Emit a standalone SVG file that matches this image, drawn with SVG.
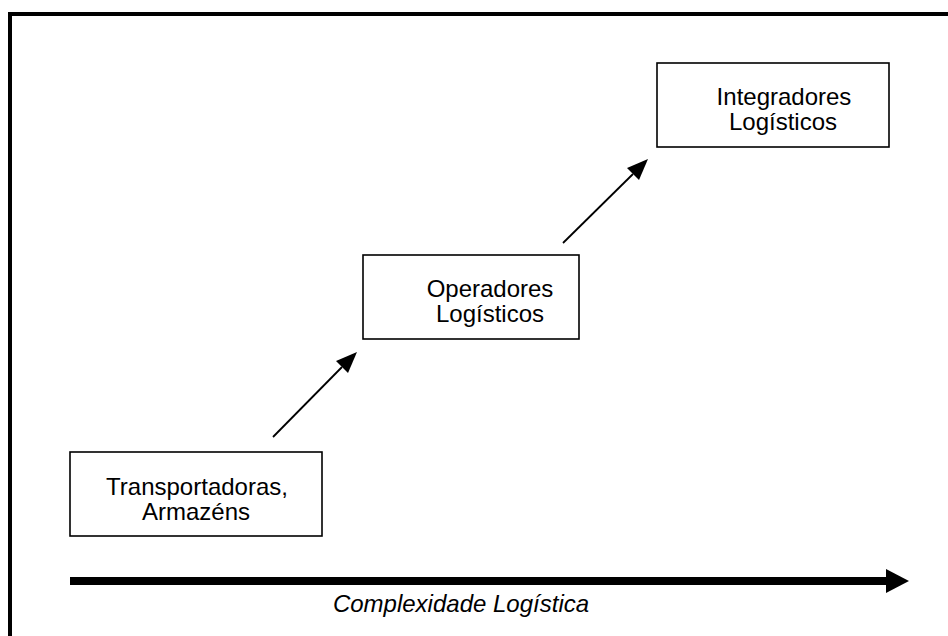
<svg xmlns="http://www.w3.org/2000/svg" width="948" height="636" viewBox="0 0 948 636">
  <style>
    .box { fill: #ffffff; stroke: #000000; stroke-width: 1.6; }
    .lbl { font-family: "Liberation Sans", Arial, sans-serif; font-size: 24px; fill: #000000; text-anchor: middle; }
    .axis-lbl { font-style: italic; }
    .link { stroke: #000000; stroke-width: 1.8; fill: none; }
  </style>
  <defs>
    <marker id="head" viewBox="0 0 10 10" refX="9" refY="5" markerWidth="9" markerHeight="7.5" markerUnits="userSpaceOnUse" orient="auto">
      <path d="M0,0 L10,5 L0,10 z" fill="#000000"/>
    </marker>
  </defs>

  <rect width="948" height="636" fill="#ffffff"/>
  <!-- outer frame, runs off the right and bottom edges -->
  <rect x="10" y="14" width="960" height="660" fill="none" stroke="#000000" stroke-width="4"/>

  <g id="node-transportadoras">
    <rect class="box" x="70" y="452" width="252" height="84"/>
    <text class="lbl" x="197" y="495">Transportadoras,</text>
    <text class="lbl" x="196" y="520">Armazéns</text>
  </g>

  <g id="node-operadores">
    <rect class="box" x="363" y="255" width="216" height="84"/>
    <text class="lbl" x="490" y="297">Operadores</text>
    <text class="lbl" x="490" y="322">Logísticos</text>
  </g>

  <g id="node-integradores">
    <rect class="box" x="657" y="63" width="232" height="84"/>
    <text class="lbl" x="784" y="105">Integradores</text>
    <text class="lbl" x="783" y="130">Logísticos</text>
  </g>

  <g id="connectors">
    <path d="M273,437 L342,367" class="link"/>
    <polygon points="357,352 336,361 348,373" fill="#000000"/>
    <path d="M563,243 L633,174" class="link"/>
    <polygon points="648,159 627,168 639,180" fill="#000000"/>
  </g>

  <g id="axis">
    <rect x="70" y="577" width="818" height="8" fill="#000000"/>
    <polygon points="886,569 909,581 886,593" fill="#000000"/>
    <text class="lbl axis-lbl" x="461" y="612">Complexidade Logística</text>
  </g>
</svg>
